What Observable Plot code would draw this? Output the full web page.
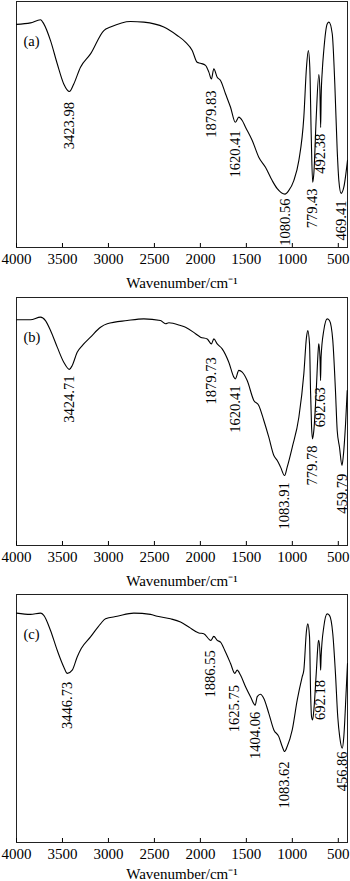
<!DOCTYPE html>
<html><head><meta charset="utf-8">
<script src="https://cdn.jsdelivr.net/npm/d3@7"></script>
<script src="https://cdn.jsdelivr.net/npm/@observablehq/plot@0.6"></script>
<style>
html,body{margin:0;padding:0;background:#fff;}
#chart svg{display:block;}
</style></head><body><div id="chart"></div>
<script>
const xTicks = [4000, 3500, 3000, 2500, 2000, 1500, 1000, 500];
const xLabel = "Wavenumber/cm⁻¹";

// Panel (a)
const wnA = [4000, 3848, 3739, 3703, 3630, 3557, 3486, 3424, 3377, 3304, 3195, 3050, 2978, 2760, 2615, 2398, 2252, 2162, 2089, 2035, 1999, 1944, 1908, 1880, 1854, 1817, 1781, 1727, 1672, 1620, 1582, 1545, 1509, 1436, 1365, 1292, 1219, 1164, 1080, 1038, 984, 929, 875, 846, 826, 810, 795, 779, 766, 740, 712, 700, 692, 686, 674, 658, 621, 602, 566, 538, 512, 494, 469, 440, 400];
const tA = [90.7, 91.3, 92.6, 90.9, 84.1, 74.7, 66.5, 63.4, 66.5, 73.3, 78.7, 88.2, 89.6, 91.9, 91.6, 89.6, 86.2, 83.5, 80.1, 75.3, 74.9, 74.0, 71.3, 68.5, 72.6, 69.2, 67.9, 62.5, 57.0, 50.9, 53.0, 51.6, 48.9, 43.5, 36.7, 32.6, 27.2, 23.9, 21.7, 23.2, 27.2, 35.4, 53.0, 73.3, 80.1, 73.3, 46.3, 26.5, 30.1, 53.0, 70.3, 63.8, 48.8, 61.8, 72.0, 80.1, 90.9, 91.6, 86.9, 66.5, 39.4, 27.2, 22.0, 24.5, 35.4];
const peakXA = [3423.98, 1879.83, 1620.41, 1080.56, 779.43, 692.38, 469.41];
const peakTextA = ["3423.98", "1879.83", "1620.41", "1080.56", "779.43", "492.38", "469.41"];
const peakTopA = [59.1, 63.8, 47.6, 19.9, 24.0, 46.2, 19.1];

// Panel (b)
const wnB = [4000, 3848, 3739, 3685, 3630, 3557, 3486, 3425, 3394, 3340, 3285, 3195, 3086, 3013, 2796, 2615, 2434, 2379, 2343, 2216, 2162, 2053, 1999, 1926, 1880, 1854, 1817, 1763, 1691, 1636, 1620, 1582, 1545, 1491, 1419, 1365, 1310, 1256, 1201, 1164, 1128, 1084, 1056, 1001, 929, 875, 846, 832, 813, 802, 791, 780, 766, 740, 718, 712, 698, 693, 687, 658, 621, 596, 560, 531, 512, 487, 460, 447, 421, 403];
const tB = [91.0, 91.0, 92.1, 90.7, 86.7, 80.0, 73.9, 71.0, 72.6, 77.9, 80.6, 84.0, 88.0, 89.4, 90.7, 91.4, 90.7, 89.4, 89.8, 88.7, 88.0, 85.4, 84.0, 83.3, 81.3, 83.3, 81.3, 79.3, 73.9, 67.9, 67.2, 70.6, 69.9, 66.5, 58.5, 56.5, 50.4, 43.7, 36.3, 34.3, 31.6, 28.2, 31.6, 39.6, 51.7, 69.2, 84.0, 86.7, 81.3, 62.5, 48.0, 43.0, 46.4, 62.5, 79.0, 81.3, 74.6, 66.5, 76.1, 86.7, 91.4, 90.7, 82.7, 62.5, 46.4, 39.6, 32.3, 35.6, 49.1, 62.5];
const peakXB = [3424.71, 1879.73, 1620.41, 1083.91, 779.78, 692.63, 459.79];
const peakTextB = ["3424.71", "1879.73", "1620.41", "1083.91", "779.78", "692.63", "459.79"];
const peakTopB = [68.5, 75.9, 64.5, 25.5, 40.3, 63.8, 28.9];

// Panel (c)
const wnC = [4000, 3848, 3739, 3703, 3630, 3557, 3486, 3447, 3394, 3340, 3296, 3195, 3086, 3032, 2905, 2724, 2543, 2470, 2325, 2216, 2126, 2017, 1963, 1887, 1854, 1817, 1781, 1727, 1672, 1626, 1600, 1564, 1509, 1455, 1404, 1382, 1346, 1310, 1256, 1201, 1147, 1110, 1084, 1056, 1001, 947, 893, 875, 846, 832, 813, 802, 791, 780, 766, 740, 718, 712, 698, 692, 687, 658, 621, 596, 560, 531, 506, 485, 457, 440, 414, 400];
const tC = [92.5, 92.0, 92.5, 91.6, 85.5, 77.5, 70.8, 68.2, 69.5, 74.8, 78.2, 82.9, 88.2, 90.2, 91.2, 92.5, 92.0, 91.2, 90.2, 88.9, 86.9, 84.5, 84.2, 81.5, 83.1, 81.5, 80.8, 76.8, 72.2, 68.2, 69.5, 67.5, 62.8, 58.8, 55.4, 58.8, 59.8, 58.1, 52.1, 45.4, 42.7, 38.7, 36.7, 38.7, 45.4, 57.4, 66.8, 69.5, 85.5, 88.2, 82.9, 61.4, 50.7, 49.4, 53.4, 68.2, 80.8, 81.5, 75.5, 69.5, 74.8, 86.9, 92.2, 91.6, 84.2, 68.2, 50.7, 42.7, 38.0, 42.7, 61.4, 72.2];
const peakXC = [3446.73, 1886.55, 1625.75, 1404.06, 1083.62, 692.18, 456.86];
const peakTextC = ["3446.73", "1886.55", "1625.75", "1404.06", "1083.62", "692.18", "456.86"];
const peakTopC = [64.8, 77.5, 63.5, 52.7, 32.7, 65.5, 36.7];

const panelLetters = ["(a)", "(b)", "(c)"];

function panel(letter, wn, t, peakX, peakText, peakTop, lay) {
  const curve = wn.map((w, i) => ({w, t: t[i]}));
  const peaks = peakX.map((x, i) => ({x, text: peakText[i], t: peakTop[i]}));
  return Plot.plot({
    width: 350,
    height: lay.height,
    marginTop: lay.top,
    marginBottom: lay.bottom,
    marginLeft: 16,
    marginRight: 3,
    style: {fontFamily: "'Liberation Serif', 'Times New Roman', serif", fontSize: "15px", background: "#fff", color: "#000"},
    x: {domain: [4000, 400]},
    y: {domain: [0, 100], axis: null},
    marks: [
      Plot.frame({stroke: "#222", strokeWidth: 1}),
      Plot.axisX({ticks: xTicks, tickSize: -4, tickPadding: 10, tickFormat: d => String(d),
        label: xLabel, labelAnchor: "center", labelArrow: "none", labelOffset: lay.labelOffset, fontSize: 15}),
      Plot.line(curve, {x: "w", y: "t", curve: "monotone-x", stroke: "#000", strokeWidth: 1.1}),
      Plot.text(peaks, {x: "x", y: "t", text: "text", rotate: -90, textAnchor: "end", fontSize: 14.5}),
      Plot.text([letter], {x: 3925, y: 84, text: d => d, textAnchor: "start", fontSize: 14.5})
    ]
  });
}

const root = document.getElementById("chart");
root.append(panel(panelLetters[0], wnA, tA, peakXA, peakTextA, peakTopA, {height: 293, top: 1, bottom: 46, labelOffset: 40}));
root.append(panel(panelLetters[1], wnB, tB, peakXB, peakTextB, peakTopB, {height: 297, top: 4, bottom: 45, labelOffset: 40}));
root.append(panel(panelLetters[2], wnC, tC, peakXC, peakTextC, peakTopC, {height: 291, top: 4, bottom: 39, labelOffset: 36}));
</script></body></html>
